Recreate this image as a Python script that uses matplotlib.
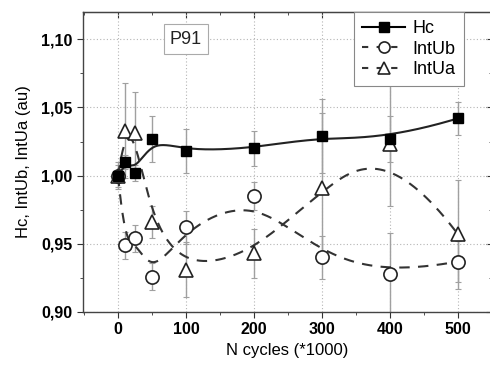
import numpy as np
import matplotlib
matplotlib.use('Agg')
from matplotlib import pyplot as plt
from matplotlib.ticker import MultipleLocator, FuncFormatter

plt.rcParams['font.family'] = ['Liberation Sans', 'DejaVu Sans']

# data
cycles = [0, 10, 25, 50, 100, 200, 300, 400, 500]
hc = [1.000, 1.010, 1.002, 1.027, 1.018, 1.020, 1.029, 1.027, 1.042]
hc_err = [0.000, 0.005, 0.006, 0.017, 0.016, 0.013, 0.027, 0.017, 0.012]
int_ub = [1.000, 0.949, 0.954, 0.926, 0.962, 0.985, 0.940, 0.928, 0.937]
int_ub_err = [0.008, 0.010, 0.010, 0.010, 0.012, 0.010, 0.016, 0.030, 0.015]
int_ua = [1.000, 1.033, 1.031, 0.966, 0.931, 0.943, 0.991, 1.023, 0.957]
int_ua_err = [0.010, 0.035, 0.030, 0.012, 0.020, 0.018, 0.055, 0.045, 0.040]


def bspline(xs, ys, n=500):
    # clamped uniform cubic B-spline, data points used as control points
    P = np.column_stack([xs, ys]).astype(float)
    m = len(P)
    k = 3
    knots = np.concatenate([[0] * k, np.arange(m - k + 1), [m - k] * k]).astype(float)
    t = np.linspace(0, m - k, n)
    t[-1] -= 1e-9
    B = np.zeros((len(knots) - 1, n))
    for i in range(len(knots) - 1):
        B[i] = (t >= knots[i]) & (t < knots[i + 1])
    for d in range(1, k + 1):
        Bn = np.zeros((len(knots) - 1 - d, n))
        for i in range(len(knots) - 1 - d):
            a = 0.0
            if knots[i + d] != knots[i]:
                a = (t - knots[i]) / (knots[i + d] - knots[i]) * B[i]
            b = 0.0
            if knots[i + d + 1] != knots[i + 1]:
                b = (knots[i + d + 1] - t) / (knots[i + d + 1] - knots[i + 1]) * B[i + 1]
            Bn[i] = a + b
        B = Bn
    C = B.T @ P
    return C[:, 0], C[:, 1]


fig = plt.figure(figsize=(4.9, 3.65), dpi=100)
ax = fig.add_axes([83 / 490, 53 / 365, 409 / 490, 300 / 365])

# grid
ax.grid(True, which='major', color='#b5b5b5', linestyle=(0, (1, 2)), linewidth=0.8)
ax.set_axisbelow(True)

# error bars
for y, e in [(hc, hc_err), (int_ub, int_ub_err), (int_ua, int_ua_err)]:
    ax.errorbar(cycles, y, yerr=e, fmt='none', ecolor='#a0a0a0', elinewidth=1,
                capsize=2.5, capthick=0.8, zorder=2)

# smoothed lines
sx, sy = bspline(cycles, hc)
ax.plot(sx, sy, color='#222222', lw=1.5, zorder=3)
sx, sy = bspline(cycles, int_ub)
ax.plot(sx, sy, color='#333333', lw=1.5, ls=(0, (5, 4)), zorder=3)
sx, sy = bspline(cycles, int_ua)
ax.plot(sx, sy, color='#333333', lw=1.5, ls=(0, (5, 4)), zorder=3)

# markers
ax.plot(cycles, hc, 's', color='black', ms=7, zorder=5)
ax.plot(cycles, int_ub, 'o', mfc='white', mec='#222222', mew=1.2, ms=9.5, zorder=4)
ax.plot(cycles, int_ua, '^', mfc='white', mec='#222222', mew=1.2, ms=9.5, zorder=4)

# legend handles
h1, = ax.plot([], [], '-s', color='black', lw=1.5, ms=7)
h2, = ax.plot([], [], ls=(0, (3, 4)), marker='o', color='#333333', mfc='white', mec='#222222', mew=1.2, lw=1.5, ms=8)
h3, = ax.plot([], [], ls=(0, (3, 4)), marker='^', color='#333333', mfc='white', mec='#222222', mew=1.2, lw=1.5, ms=8)
leg = ax.legend([h1, h2, h3], ['Hc', 'IntUb', 'IntUa'], loc='upper left',
                bbox_to_anchor=((354 - 83) / 409, 1.0), fontsize=13, frameon=True,
                fancybox=False, edgecolor='#888888', borderaxespad=0, handlelength=2.4,
                labelspacing=0.2, borderpad=0.45, handletextpad=0.4, framealpha=1)
leg.get_frame().set_linewidth(0.8)
leg.set_zorder(6)

ax.text(100, 1.1, 'P91', ha='center', va='center', fontsize=13, color='#222222',
        bbox=dict(boxstyle='square,pad=0.35', fc='white', ec='#aaaaaa', lw=0.8))

ax.set_xlim(-51.5, 550)
ax.set_ylim(0.9, 1.12)
ax.xaxis.set_major_locator(MultipleLocator(100))
ax.xaxis.set_minor_locator(MultipleLocator(50))
ax.yaxis.set_major_locator(MultipleLocator(0.05))
ax.yaxis.set_minor_locator(MultipleLocator(0.025))
ax.yaxis.set_major_formatter(FuncFormatter(lambda v, p: f'{v:.2f}'.replace('.', ',')))
ax.tick_params(which='both', direction='out', color='#333333')
ax.tick_params(which='major', length=4, labelsize=11.5)
ax.tick_params(which='minor', length=2.5)
for lab in ax.get_xticklabels() + ax.get_yticklabels():
    lab.set_fontweight('bold')

# inward ticks on top and right
top = ax.secondary_xaxis('top')
top.xaxis.set_major_locator(MultipleLocator(100))
top.xaxis.set_minor_locator(MultipleLocator(50))
top.tick_params(which='both', direction='in', labeltop=False, color='#333333')
top.tick_params(which='major', length=4)
top.tick_params(which='minor', length=2.5)
right = ax.secondary_yaxis('right')
right.yaxis.set_major_locator(MultipleLocator(0.05))
right.yaxis.set_minor_locator(MultipleLocator(0.025))
right.tick_params(which='both', direction='in', labelright=False, color='#333333')
right.tick_params(which='major', length=4)
right.tick_params(which='minor', length=2.5)

for s in ax.spines.values():
    s.set_color('#444444')
    s.set_linewidth(1)
top.spines['top'].set_color('#444444')
right.spines['right'].set_color('#444444')

ax.set_xlabel('N cycles (*1000)', fontsize=12, labelpad=4)
ax.set_ylabel('Hc, IntUb, IntUa (au)', fontsize=12, labelpad=7)

plt.savefig('out.png', dpi=100)
